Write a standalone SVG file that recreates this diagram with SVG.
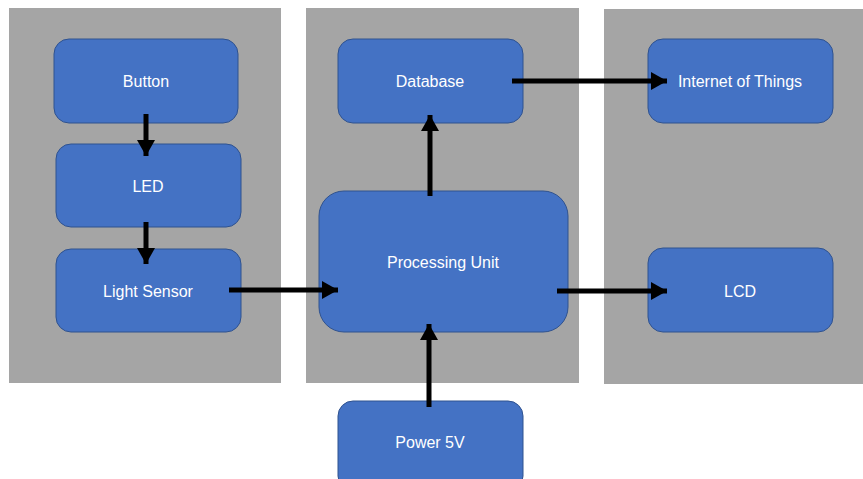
<svg xmlns="http://www.w3.org/2000/svg" width="863" height="479" viewBox="0 0 863 479">
<style>
.panel{fill:#A5A5A5}
.box{fill:#4472C4;stroke:#2F528F;stroke-width:1}
.lbl{fill:#fff;font-family:"Liberation Sans",Arial,sans-serif;font-size:16px;text-anchor:middle;dominant-baseline:central}
.conn{stroke:#000;stroke-width:5;fill:none;marker-end:url(#ah)}
</style>
<defs>
<marker id="ah" markerUnits="userSpaceOnUse" markerWidth="18" markerHeight="18" refX="16" refY="9" orient="auto">
<path d="M0,0 L16,9 L0,18 Z" fill="#000"/>
</marker>
</defs>
<rect width="863" height="479" fill="#fff"/>
<g id="panels">
<rect class="panel" x="9" y="8" width="272" height="375"/>
<rect class="panel" x="306" y="8" width="273" height="375"/>
<rect class="panel" x="604" y="9" width="259" height="375"/>
</g>
<g id="button"><rect class="box" x="54" y="39" width="184" height="84" rx="15"/><text class="lbl" x="146" y="81">Button</text></g>
<g id="led"><rect class="box" x="56" y="144" width="185" height="83" rx="15"/><text class="lbl" x="148" y="186">LED</text></g>
<g id="lightsensor"><rect class="box" x="56" y="249" width="185" height="83" rx="15"/><text class="lbl" x="148" y="291">Light Sensor</text></g>
<g id="database"><rect class="box" x="338" y="39" width="185" height="84" rx="15"/><text class="lbl" x="430" y="81">Database</text></g>
<g id="iot"><rect class="box" x="648" y="39" width="185" height="84" rx="15"/><text class="lbl" x="740" y="81">Internet of Things</text></g>
<g id="processing"><rect class="box" x="319" y="191" width="249" height="141" rx="25"/><text class="lbl" x="443" y="262">Processing Unit</text></g>
<g id="lcd"><rect class="box" x="648" y="248" width="185" height="84" rx="15"/><text class="lbl" x="740" y="291">LCD</text></g>
<g id="power"><rect class="box" x="338" y="401" width="185" height="90" rx="15"/><text class="lbl" x="430" y="442">Power 5V</text></g>
<g id="connectors">
<line class="conn" x1="146" y1="114" x2="146" y2="156"/>
<line class="conn" x1="146" y1="222" x2="146" y2="264"/>
<line class="conn" x1="229" y1="290" x2="338" y2="290"/>
<line class="conn" x1="430" y1="196" x2="430" y2="115"/>
<line class="conn" x1="512" y1="81" x2="667" y2="81"/>
<line class="conn" x1="557" y1="291" x2="667" y2="291"/>
<line class="conn" x1="429" y1="407" x2="429" y2="324"/>
</g>
</svg>
